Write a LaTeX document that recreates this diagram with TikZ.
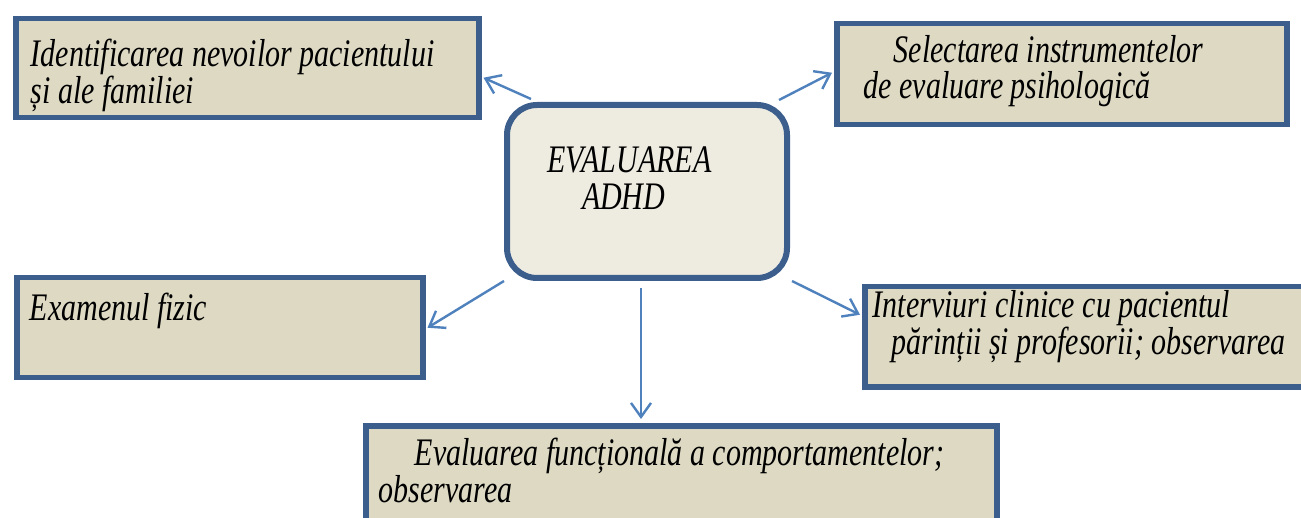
\documentclass[tikz,border=0pt]{standalone}
\usepackage{fontspec}
\setmainfont{Liberation Serif}
\usepackage{graphicx}
\usetikzlibrary{arrows.meta}
\definecolor{framecol}{RGB}{59,94,140}
\definecolor{boxfill}{RGB}{221,217,195}
\definecolor{corefill}{RGB}{238,236,225}
\definecolor{linkcol}{RGB}{79,129,189}
% width, height, first baseline, line skip, lines
\newcommand{\boxtxt}[5]{%
  \scalebox{1}[1.3]{\parbox[c][\dimexpr #2*10/13\relax][t]{#1}{%
    \fontsize{30}{30}\selectfont\itshape\raggedright
    \baselineskip=\dimexpr #4*10/13\relax
    \rule{0pt}{\dimexpr #3*10/13\relax}#5\par}}}
\tikzset{infobox/.style={draw=framecol, line width=5.5pt, fill=boxfill, inner sep=0pt, anchor=north west},
  corebox/.style={infobox, fill=corefill, rounded corners=30pt, line width=6pt},
  link/.style={draw=linkcol, line width=2.4pt, -{Straight Barb[length=14pt,width=20pt]}}}

\begin{document}
\begin{tikzpicture}[x=1pt,y=-1pt]
    \clip (0,0) rectangle (1301,518);
    \node[infobox] (needs) at (13,16) {\boxtxt{463pt}{99pt}{48pt}{33pt}{\hspace*{15pt}Identificarea nevoilor pacientului\\\hspace*{15pt}și ale familiei}};
    \node[infobox] (tools) at (834,21) {\boxtxt{450pt}{101pt}{39pt}{36pt}{\hspace*{57pt}Selectarea instrumentelor\\\hspace*{27pt}de evaluare psihologică}};
    \node[corebox] (core) at (504,102) {\boxtxt{280pt}{173pt}{68pt}{37pt}{\hspace*{40pt}EVALUAREA\\\hspace*{75pt}ADHD}};
    \node[infobox] (exam) at (14,275) {\boxtxt{406pt}{100pt}{43pt}{35pt}{\hspace*{13pt}Examenul fizic}};
    \node[infobox] (talks) at (862,284) {\boxtxt{443pt}{100pt}{31pt}{35pt}{\hspace*{8pt}Interviuri clinice cu pacientul\\\hspace*{27pt}părinții și profesorii; observarea}};
    \node[infobox] (func) at (363,423) {\boxtxt{631pt}{122pt}{40pt}{37pt}{\hspace*{49pt}Evaluarea funcțională a comportamentelor;\\\hspace*{13pt}observarea}};
    \draw[link] ([xshift=27pt,yshift=3pt]core.north west) -- ([xshift=2pt,yshift=-9.5pt]needs.east);
    \draw[link] ([xshift=-11pt,yshift=2pt]core.north east) -- ([xshift=-2pt,yshift=1.5pt]tools.west);
    \draw[link] (core.south west) -- ([xshift=2pt]exam.east);
    \draw[link] ([xshift=2pt]core.south east) -- ([xshift=-2pt,yshift=22pt]talks.west);
    \coordinate (drop) at ([xshift=-6pt]core.south);
    \draw[link, shorten <=7pt, shorten >=4pt] (drop) -- (drop |- func.north);
\end{tikzpicture}
\end{document}
